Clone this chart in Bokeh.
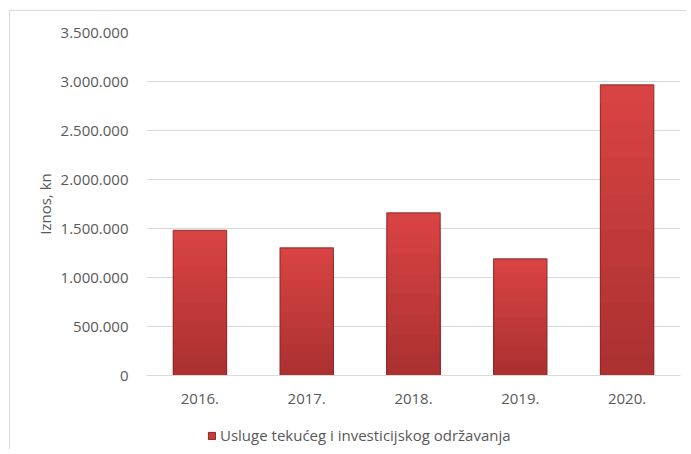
from bokeh.plotting import figure
from bokeh.layouts import column
from bokeh.models import FactorRange, Range1d, FixedTicker, Legend, LegendItem
from bokeh.embed import file_html
from bokeh.resources import INLINE

years = ["2016.", "2017.", "2018.", "2019.", "2020."]
values = [1480000, 1303000, 1660000, 1191000, 2966000]
y_ticks = [0, 500000, 1000000, 1500000, 2000000, 2500000, 3000000, 3500000]
y_tick_labels = ["0", "500.000", "1.000.000", "1.500.000", "2.000.000",
                 "2.500.000", "3.000.000", "3.500.000"]
series_name = "Usluge tekućeg i investicijskog održavanja"
y_title = "Iznos, kn"

FONT = "Open Sans"
TXT = "#595959"
W = 676

p = figure(x_range=FactorRange(*years, range_padding=0.0), y_range=Range1d(0, 3500000),
           width=W, height=400, output_backend="svg", toolbar_location=None,
           min_border_left=136, min_border_right=6, min_border_top=21, min_border_bottom=36)
p.outline_line_color = None
p.background_fill_color = "white"
p.border_fill_color = "white"

# vertical gradient approximated by overlapping bars (drawn tallest first)
N = 16
def lerp(c1, c2, t):
    return "#%02x%02x%02x" % tuple(int(round(a + (b - a) * t)) for a, b in zip(c1, c2))
bottom_c = (0xaa, 0x30, 0x30)
top_c = (0xda, 0x44, 0x44)
for i in range(N - 1, -1, -1):
    t = [v * (i + 1) / N for v in values]
    p.vbar(x=years, top=t, width=0.5,
           fill_color=lerp(bottom_c, top_c, (i + 0.5) / N), line_color=None)
p.vbar(x=years, top=values, width=0.5, fill_color=None,
       line_color="#8c2626", line_width=1.2, line_alpha=0.8)

p.xgrid.grid_line_color = None
p.ygrid.grid_line_color = "#d9d9d9"
p.ygrid.grid_line_width = 1
p.yaxis.ticker = FixedTicker(ticks=y_ticks)
p.yaxis.major_label_overrides = {t: l for t, l in zip(y_ticks, y_tick_labels)}
p.yaxis.axis_line_color = None
p.yaxis.major_tick_line_color = None
p.yaxis.minor_tick_line_color = None
p.yaxis.major_label_standoff = 12
p.yaxis.axis_label = y_title
p.yaxis.axis_label_standoff = 3
p.yaxis.axis_label_text_font_style = "normal"

p.xaxis.axis_line_color = "#d9d9d9"
p.xaxis.major_tick_line_color = None
p.xaxis.minor_tick_line_color = None
p.xaxis.major_label_standoff = 12

for ax in (p.xaxis[0], p.yaxis[0]):
    ax.major_label_text_font = FONT
    ax.major_label_text_font_size = "15px"
    ax.major_label_text_color = TXT
    ax.axis_label_text_font = FONT
    ax.axis_label_text_font_size = "15px"
    ax.axis_label_text_color = TXT

# legend strip below the chart (its frame is aligned with the chart's frame)
lf = figure(width=W, height=38, output_backend="svg", toolbar_location=None,
            x_range=Range1d(0, 1), y_range=Range1d(0, 1),
            min_border=0, min_border_left=0, min_border_right=0,
            min_border_top=0, min_border_bottom=0)
lf.outline_line_color = None
lf.axis.visible = False
lf.grid.visible = False
lr = lf.vbar(x=[0], top=[0], width=0, fill_color="#c83b3b", line_color="#8c2626")
legend = Legend(items=[LegendItem(label=series_name, renderers=[lr])],
                location=(61, 4), orientation="horizontal",
                label_text_font=FONT, label_text_font_size="15px", label_text_color=TXT,
                glyph_width=9, glyph_height=9, label_standoff=4, padding=0, margin=0,
                border_line_color=None, background_fill_alpha=0)
lf.add_layout(legend, "center")

layout = column(p, lf, spacing=0)
layout.styles = {"border-left": "1px solid #d9d9d9", "border-top": "1px solid #d9d9d9",
                 "margin-left": "9px", "margin-top": "10px"}

open("out.html", "w").write(file_html(layout, INLINE))
